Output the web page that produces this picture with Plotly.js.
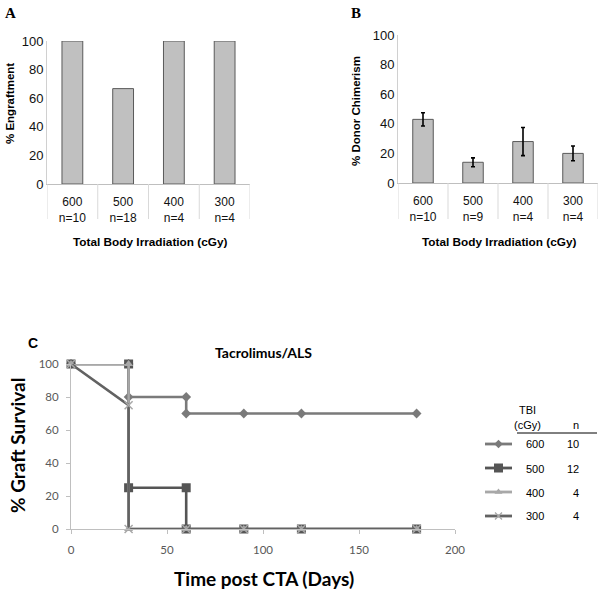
<!DOCTYPE html>
<html>
<head>
<meta charset="utf-8">
<script src="https://cdn.plot.ly/plotly-3.0.1.min.js"></script>
<style>html,body{margin:0;padding:0;background:#fff;}#chart{width:600px;height:591px;}</style>
</head>
<body>
<div id="chart"></div>
<script>
// ---- data ----
var doseLabels = ['600', '500', '400', '300'];
var nEngraft = [10, 18, 4, 4];
var engraftPct = [100, 66.7, 100, 100];
var nChimerism = [10, 9, 4, 4];
var chimerismPct = [43, 14, 28, 20];
var chimerismErr = [4.5, 3, 9.5, 5];

var days600 = [0, 30, 30, 60, 60, 90, 120, 180];
var surv600 = [100, 100, 80, 80, 70, 70, 70, 70];
var days500 = [0, 30, 30, 60, 60, 90, 120, 180];
var surv500 = [100, 100, 25, 25, 0, 0, 0, 0];
var days400 = [0, 30, 30, 60, 90, 120, 180];
var surv400 = [100, 100, 0, 0, 0, 0, 0];
var days300 = [0, 30, 30, 60, 90, 120, 180];
var surv300 = [100, 75, 0, 0, 0, 0, 0];
var legendDose = ['600', '500', '400', '300'];
var legendN = ['10', '12', '4', '4'];

// ---- helpers ----
var W = 600, H = 591;
function px(x) { return x / W; }
function py(y) { return 1 - y / H; }
var idx = doseLabels.map(function (d, i) { return i; });
function catText(ns) { return doseLabels.map(function (d, i) { return d + '<br>n=' + ns[i]; }); }

var AR = 'Liberation Sans, Arial, sans-serif';
var CAL = 'Lato, Carlito, Calibri, sans-serif';

var styles = [
  { name: '600', color: '#7a7a7a', symbol: 'diamond', size: 7.5, lsize: 6.5, mline: '#7a7a7a' },
  { name: '500', color: '#555555', symbol: 'square', size: 9, lsize: 9, mline: '#555555' },
  { name: '400', color: '#a8a8a8', symbol: 'triangle-up', size: 8, lsize: 7, mline: '#a8a8a8' },
  { name: '300', color: '#626262', symbol: 'x-thin', size: 8, lsize: 7, mline: '#a8a8a8' }
];
var survX = [days600, days500, days400, days300];
var survY = [surv600, surv500, surv400, surv300];

var traces = [];
traces.push({
  type: 'bar', x: idx, y: engraftPct, xaxis: 'x', yaxis: 'y', width: 0.41,
  marker: { color: '#c0c0c0', line: { color: '#5a5a5a', width: 1 } }, showlegend: false, hoverinfo: 'y'
});
traces.push({
  type: 'bar', x: idx, y: chimerismPct, xaxis: 'x2', yaxis: 'y2', width: 0.41,
  marker: { color: '#c0c0c0', line: { color: '#5a5a5a', width: 1 } },
  error_y: { type: 'data', array: chimerismErr, visible: true, color: '#000', thickness: 1.6, width: 2 },
  showlegend: false, hoverinfo: 'y'
});
styles.forEach(function (s, i) {
  traces.push({
    type: 'scatter', mode: 'lines+markers', x: survX[i], y: survY[i], xaxis: 'x3', yaxis: 'y3',
    name: s.name, cliponaxis: false,
    line: { color: s.color, width: 2.6 },
    marker: { symbol: s.symbol, size: s.size, color: s.color, line: { color: s.mline, width: s.symbol === 'x-thin' ? 1.5 : 0 } },
    showlegend: false
  });
  // custom legend row (line + marker)
  traces.push({
    type: 'scatter', mode: 'lines', x: [0, 1], y: [i, i], xaxis: 'x4', yaxis: 'y4',
    line: { color: s.color, width: 2.8 }, showlegend: false, hoverinfo: 'skip', cliponaxis: false
  });
  traces.push({
    type: 'scatter', mode: 'markers', x: [0.5], y: [i], xaxis: 'x4', yaxis: 'y4',
    marker: { symbol: s.symbol, size: s.lsize, color: s.color, line: { color: s.mline, width: s.symbol === 'x-thin' ? 1.3 : 0 } },
    showlegend: false, hoverinfo: 'skip', cliponaxis: false
  });
});

var shapes = [];
[-0.5, 0.5, 1.5, 2.5, 3.5].forEach(function (v) {
  shapes.push({ type: 'line', xref: 'x', yref: 'paper', x0: v, x1: v, y0: py(184), y1: py(219), line: { color: '#d9d9d9', width: 1 } });
  shapes.push({ type: 'line', xref: 'x2', yref: 'paper', x0: v, x1: v, y0: py(183), y1: py(219), line: { color: '#d9d9d9', width: 1 } });
});
shapes.push({ type: 'line', xref: 'paper', yref: 'paper', x0: px(517), x1: px(597), y0: py(433), y1: py(433), line: { color: '#000', width: 1 } });

var annotations = [
  { text: '<b>A</b>', x: px(3), y: py(13), xanchor: 'left', yanchor: 'middle', font: { family: 'Liberation Serif, Times New Roman, serif', size: 15, color: '#000' } },
  { text: '<b>B</b>', x: px(349), y: py(13), xanchor: 'left', yanchor: 'middle', font: { family: 'Liberation Serif, Times New Roman, serif', size: 15, color: '#000' } },
  { text: '<b>C</b>', x: px(26), y: py(343), xanchor: 'left', yanchor: 'middle', font: { family: AR, size: 14, color: '#000' } },
  { text: '<b>% Engraftment</b>', x: px(10), y: py(104), textangle: -90, xanchor: 'center', yanchor: 'middle', font: { family: AR, size: 11.5, color: '#000' } },
  { text: '<b>% Donor Chimerism</b>', x: px(356), y: py(111), textangle: -90, xanchor: 'center', yanchor: 'middle', font: { family: AR, size: 11.5, color: '#000' } },
  { text: '<b>Total Body Irradiation (cGy)</b>', x: px(150), y: py(242), xanchor: 'center', yanchor: 'middle', font: { family: AR, size: 11.8, color: '#000' } },
  { text: '<b>Total Body Irradiation (cGy)</b>', x: px(499), y: py(242), xanchor: 'center', yanchor: 'middle', font: { family: AR, size: 11.8, color: '#000' } },
  { text: '<b>Tacrolimus/ALS</b>', x: px(263), y: py(352), xanchor: 'center', yanchor: 'middle', font: { family: CAL, size: 14, color: '#000' } },
  { text: '<b>% Graft Survival</b>', x: px(17), y: py(446), textangle: -90, xanchor: 'center', yanchor: 'middle', font: { family: CAL, size: 19, color: '#000' } },
  { text: '<b>Time post CTA (Days)</b>', x: px(264), y: py(578), xanchor: 'center', yanchor: 'middle', font: { family: CAL, size: 19, color: '#000' } },
  { text: 'TBI', x: px(527), y: py(410), xanchor: 'center', yanchor: 'middle', font: { family: AR, size: 11, color: '#000' } },
  { text: '(cGy)', x: px(527), y: py(425), xanchor: 'center', yanchor: 'middle', font: { family: AR, size: 11, color: '#000' } },
  { text: 'n', x: px(576), y: py(425), xanchor: 'center', yanchor: 'middle', font: { family: AR, size: 11, color: '#000' } }
];
var rowPix = [444, 468.5, 492.5, 516];
legendDose.forEach(function (d, i) {
  annotations.push({ text: d, x: px(535), y: py(rowPix[i]), xanchor: 'center', yanchor: 'middle', font: { family: AR, size: 11, color: '#000' } });
  annotations.push({ text: legendN[i], x: px(581), y: py(rowPix[i]), xanchor: 'right', yanchor: 'middle', font: { family: AR, size: 11, color: '#000' } });
});
annotations.forEach(function (a) { a.xref = 'paper'; a.yref = 'paper'; a.showarrow = false; });

var catAxis = function (dom, anchor, ns) {
  return {
    domain: dom, anchor: anchor, range: [-0.5, 3.5], tickvals: idx, ticktext: catText(ns),
    showline: true, linecolor: '#bfbfbf', linewidth: 1, ticks: '', showgrid: false, zeroline: false,
    tickfont: { family: AR, size: 12, color: '#111' }, ticklabelstandoff: 7, fixedrange: true
  };
};
var valAxis = function (dom, anchor) {
  return {
    domain: dom, anchor: anchor, range: [0, 100], dtick: 20, showline: true, linecolor: '#d0d0d0', linewidth: 1,
    ticks: '', showgrid: false, zeroline: false, tickfont: { family: AR, size: 13, color: '#111' }, fixedrange: true
  };
};

var layout = {
  width: W, height: H, margin: { l: 0, r: 0, t: 0, b: 0 }, paper_bgcolor: '#fff', plot_bgcolor: 'rgba(0,0,0,0)',
  showlegend: false, bargap: 0,
  xaxis: catAxis([px(47), px(250)], 'y', nEngraft),
  yaxis: valAxis([py(184), py(41)], 'x'),
  xaxis2: catAxis([px(398), px(598)], 'y2', nChimerism),
  yaxis2: valAxis([py(183), py(35)], 'x2'),
  xaxis3: {
    domain: [px(71), px(455)], anchor: 'y3', range: [0, 200], dtick: 50, showline: true, linecolor: '#bfbfbf',
    ticks: 'outside', ticklen: 4, tickcolor: '#bfbfbf', showgrid: false, zeroline: false,
    tickfont: { family: CAL, size: 11.5, color: '#595959' }, ticklabelstandoff: 6
  },
  yaxis3: {
    domain: [py(529), py(364)], anchor: 'x3', range: [0, 100], dtick: 20, showline: true, linecolor: '#bfbfbf',
    ticks: 'outside', ticklen: 4, tickcolor: '#bfbfbf', showgrid: false, zeroline: false,
    tickfont: { family: CAL, size: 11.5, color: '#595959' }, ticklabelstandoff: 5
  },
  xaxis4: { domain: [px(485), px(512)], anchor: 'y4', range: [0, 1], visible: false, fixedrange: true },
  yaxis4: { domain: [py(528), py(432)], anchor: 'x4', range: [3.5, -0.5], visible: false, fixedrange: true },
  shapes: shapes,
  annotations: annotations
};

Plotly.newPlot('chart', traces, layout, { displayModeBar: false, staticPlot: true });
</script>
</body>
</html>
